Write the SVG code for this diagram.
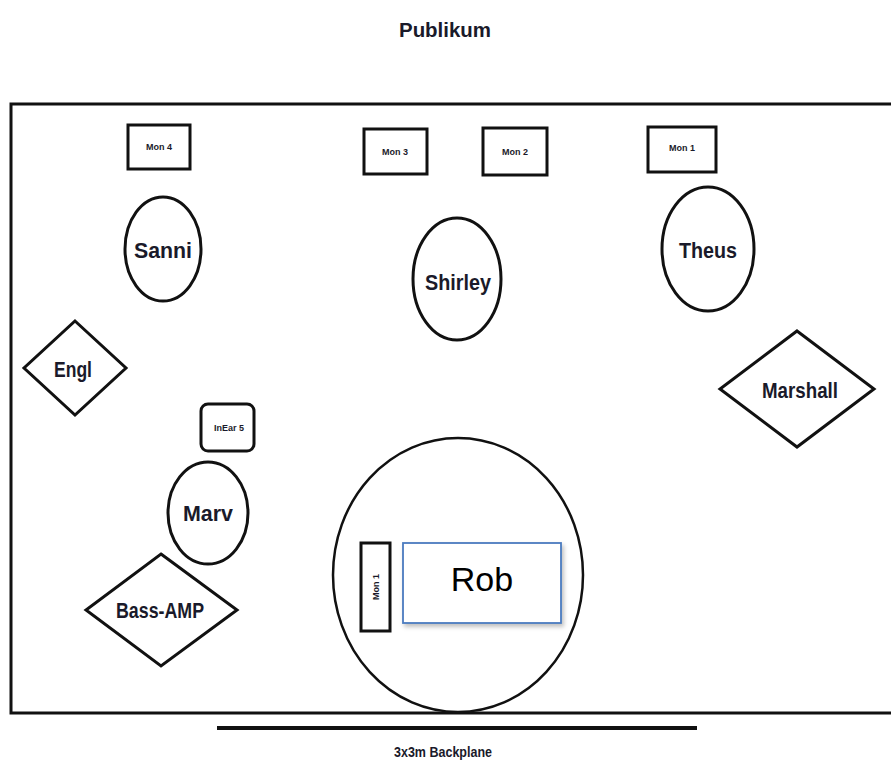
<svg xmlns="http://www.w3.org/2000/svg" width="891" height="767" viewBox="0 0 891 767">
<defs>
<style>
.sh{fill:#fff;stroke:#111;stroke-width:3}
.box{fill:#fff;stroke:#111;stroke-width:3}
.lbl{font-family:"Liberation Sans",Arial,sans-serif;font-weight:bold;fill:#1a1a2a;text-anchor:middle}
.big{font-size:22px}
.sm{font-size:9px}
</style>
<filter id="shd" x="-10%" y="-10%" width="130%" height="130%">
<feDropShadow dx="2" dy="3" stdDeviation="2" flood-color="#000" flood-opacity="0.25"/>
</filter>
</defs>
<rect width="891" height="767" fill="#fff"/>
<text class="lbl" x="445" y="37" font-size="21" textLength="92" lengthAdjust="spacingAndGlyphs">Publikum</text>
<rect x="11" y="104" width="895" height="609" fill="none" stroke="#111" stroke-width="3"/>
<line x1="217" y1="728" x2="697" y2="728" stroke="#111" stroke-width="4"/>
<text class="lbl" x="443" y="757" font-size="15" textLength="98" lengthAdjust="spacingAndGlyphs">3x3m Backplane</text>
<g id="connectors"/>
<g id="mon4"><rect class="box" x="128" y="125" width="62" height="44"/><text class="lbl sm" x="159" y="150">Mon 4</text></g>
<g id="mon3"><rect class="box" x="364" y="129" width="63" height="45"/><text class="lbl sm" x="395" y="155">Mon 3</text></g>
<g id="mon2"><rect class="box" x="483" y="128" width="64" height="47"/><text class="lbl sm" x="515" y="155">Mon 2</text></g>
<g id="mon1top"><rect class="box" x="648" y="127" width="68" height="45"/><text class="lbl sm" x="682" y="151">Mon 1</text></g>
<g id="sanni"><ellipse class="sh" cx="163" cy="249" rx="38" ry="52"/><text class="lbl big" x="163" y="258" textLength="58" lengthAdjust="spacingAndGlyphs">Sanni</text></g>
<g id="shirley"><ellipse class="sh" cx="457" cy="279" rx="44" ry="61"/><text class="lbl big" x="458" y="290" textLength="66" lengthAdjust="spacingAndGlyphs">Shirley</text></g>
<g id="theus"><ellipse class="sh" cx="708" cy="249" rx="46" ry="62"/><text class="lbl big" x="708" y="258" textLength="58" lengthAdjust="spacingAndGlyphs">Theus</text></g>
<g id="engl"><polygon class="sh" points="75,321 126,368 75,415 24,368"/><text class="lbl big" x="73" y="377" textLength="38" lengthAdjust="spacingAndGlyphs">Engl</text></g>
<g id="marshall"><polygon class="sh" points="797,331 874,389 797,447 720,389"/><text class="lbl big" x="800" y="398" textLength="76" lengthAdjust="spacingAndGlyphs">Marshall</text></g>
<g id="inear5"><rect class="box" x="201" y="404" width="53" height="47" rx="7"/><text class="lbl sm" x="229" y="431">InEar 5</text></g>
<g id="marv"><ellipse class="sh" cx="208" cy="513" rx="40" ry="51"/><text class="lbl big" x="208" y="521" textLength="50" lengthAdjust="spacingAndGlyphs">Marv</text></g>
<g id="bassamp"><polygon class="sh" points="161,554 237,610 161,666 86,610"/><text class="lbl big" x="160" y="618" textLength="88" lengthAdjust="spacingAndGlyphs">Bass-AMP</text></g>
<g id="drums"><ellipse cx="458" cy="575" rx="125" ry="137" fill="#fff" stroke="#111" stroke-width="2.5"/></g>
<g id="mon1side"><rect class="box" x="361" y="543" width="29" height="88"/><text class="lbl sm" transform="translate(379,587) rotate(-90)">Mon 1</text></g>
<g id="rob"><rect x="403" y="543" width="158" height="80" fill="#fff" stroke="#4a7bbf" stroke-width="1.8" filter="url(#shd)"/><text x="482" y="591" font-family="Liberation Sans,Arial,sans-serif" font-size="34" fill="#000" text-anchor="middle">Rob</text></g>
</svg>
